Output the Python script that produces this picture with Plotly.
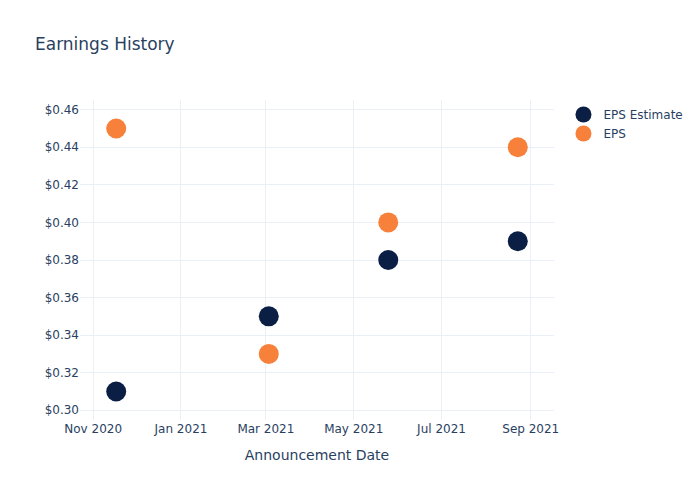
import plotly.graph_objects as go

dates = ["2020-11-17", "2021-03-03", "2021-05-25", "2021-08-23"]
eps_estimate = [0.31, 0.35, 0.38, 0.39]
eps_actual = [0.45, 0.33, 0.40, 0.44]

fig = go.Figure()
fig.add_trace(go.Scatter(x=dates, y=eps_estimate, mode="markers", name="EPS Estimate",
                         marker=dict(size=20, color="#0b1f44")))
fig.add_trace(go.Scatter(x=dates, y=eps_actual, mode="markers", name="EPS",
                         marker=dict(size=20, color="#f7813a")))
fig.update_layout(
    template="plotly_white",
    width=700, height=500,
    font=dict(family="DejaVu Sans"),
    title=dict(text="Earnings History"),
    xaxis=dict(title="Announcement Date"),
    yaxis=dict(tickprefix="$", tickformat=".2f", dtick=0.02),
)
fig.write_html("out.html")
